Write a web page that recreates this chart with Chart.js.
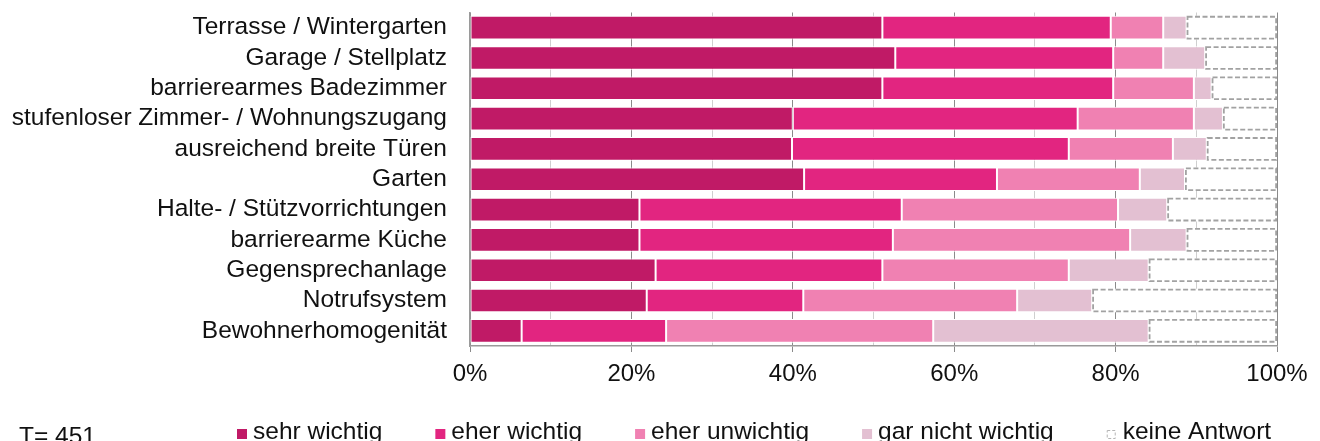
<!DOCTYPE html>
<html lang="de">
<head>
<meta charset="utf-8">
<title>Wichtigkeit von Ausstattungsmerkmalen</title>
<script src="https://cdn.jsdelivr.net/npm/chart.js@4"></script>
<style>
  html, body { margin: 0; padding: 0; background: #fff; }
  #wrap { width: 1320px; height: 441px; position: relative; }
</style>
</head>
<body>
<div id="wrap"><canvas id="chart" width="1320" height="441"></canvas></div>
<script>
// Merkmale (von oben nach unten)
const merkmale = [
  'Terrasse / Wintergarten',
  'Garage / Stellplatz',
  'barrierearmes Badezimmer',
  'stufenloser Zimmer- / Wohnungszugang',
  'ausreichend breite Türen',
  'Garten',
  'Halte- / Stützvorrichtungen',
  'barrierearme Küche',
  'Gegensprechanlage',
  'Notrufsystem',
  'Bewohnerhomogenität'
];

// Anteile in Prozent
const sehrWichtig     = [51.1, 52.7, 51.1, 40.0, 39.9, 41.4, 21.0, 21.0, 23.0, 21.9, 6.4];
const eherWichtig     = [28.3, 27.0, 28.6, 35.3, 34.3, 23.9, 32.5, 31.4, 28.1, 19.4, 17.9];
const eherUnwichtig   = [6.5, 6.2, 10.0, 14.4, 12.9, 17.7, 26.8, 29.4, 23.1, 26.5, 33.1];
const garNichtWichtig = [2.9, 5.2, 2.2, 3.6, 4.2, 5.6, 6.1, 7.0, 9.9, 9.3, 26.7];
const keineAntwort    = [11.2, 8.9, 8.1, 6.7, 8.7, 11.4, 13.6, 11.2, 15.9, 22.9, 15.9];

const xTicks = [0, 20, 40, 60, 80, 100];
const fallzahl = 'T= 451';

const FONT = '"Liberation Sans", Arial, sans-serif';
const LABEL_SIZE = 24.5;
const TICK_SIZE = 24;
const DASH_GREY = '#a2a2a2';

function serie(label, data, color) {
  return {
    label,
    data,
    backgroundColor: color,
    borderColor: '#ffffff',
    borderWidth: 1,
    borderSkipped: false,
    barPercentage: 0.78,
    categoryPercentage: 1
  };
}

const datasets = [
  serie('sehr wichtig', sehrWichtig, '#c01a66'),
  serie('eher wichtig', eherWichtig, '#e22580'),
  serie('eher unwichtig', eherUnwichtig, '#f081b2'),
  serie('gar nicht wichtig', garNichtWichtig, '#e3c0d2'),
  Object.assign(serie('keine Antwort', keineAntwort, '#ffffff'), { borderWidth: 0, dashed: true })
];

// gestrichelter Rahmen für "keine Antwort"
const dashedBars = {
  id: 'dashedBars',
  afterDatasetsDraw(chart) {
    const ctx = chart.ctx;
    chart.data.datasets.forEach((ds, i) => {
      if (!ds.dashed) return;
      chart.getDatasetMeta(i).data.forEach(bar => {
        const { x, y, base, height } = bar.getProps(['x', 'y', 'base', 'height'], true);
        ctx.save();
        ctx.strokeStyle = DASH_GREY;
        ctx.lineWidth = 1.8;
        ctx.setLineDash([5, 2.5]);
        ctx.strokeRect(Math.min(x, base) + 0.9, y - height / 2 + 0.9, Math.abs(x - base) - 1.8, height - 1.8);
        ctx.restore();
      });
    });
  }
};

// Legende und Fallzahl unten
const bottomLegend = {
  id: 'bottomLegend',
  afterDraw(chart) {
    const ctx = chart.ctx;
    ctx.save();
    ctx.font = `${LABEL_SIZE}px ${FONT}`;
    ctx.textBaseline = 'alphabetic';
    ctx.fillStyle = '#111';
    ctx.fillText(fallzahl, 19, 444);

    let x = 237;
    const boxTop = 429, box = 10;
    chart.data.datasets.forEach(ds => {
      if (ds.dashed) {
        ctx.strokeStyle = '#b5b5b5';
        ctx.lineWidth = 1;
        ctx.setLineDash([3, 2]);
        ctx.strokeRect(x + 0.5, boxTop + 1.5, box - 2, box - 2);
        ctx.setLineDash([]);
      } else {
        ctx.fillStyle = ds.backgroundColor;
        ctx.fillRect(x, boxTop, box, box);
      }
      ctx.fillStyle = '#111';
      ctx.fillText(ds.label, x + 16, 439);
      x += 16 + ctx.measureText(ds.label).width + 53;
    });
    ctx.restore();
  }
};

new Chart(document.getElementById('chart'), {
  type: 'bar',
  data: { labels: merkmale, datasets },
  options: {
    indexAxis: 'y',
    responsive: false,
    animation: false,
    layout: { padding: { top: 12.5, right: 43, bottom: 0, left: 0 } },
    plugins: {
      legend: { display: false },
      tooltip: { enabled: false }
    },
    scales: {
      x: {
        stacked: true,
        min: 0,
        max: 100,
        afterFit: scale => { scale.height = 95; },
        afterBuildTicks: scale => {
          // Gitter alle 10 %, beschriftet nur alle 20 %
          scale.ticks = Array.from({ length: 11 }, (_, i) => ({ value: i * 10 }));
        },
        ticks: {
          autoSkip: false,
          maxRotation: 0,
          padding: 8,
          color: '#111',
          font: { family: FONT, size: TICK_SIZE },
          callback: v => (xTicks.includes(v) ? v + '%' : '')
        },
        grid: {
          color: c => (c.tick && c.tick.value % 20 === 0 ? '#8a8a8a' : '#cfcfcf'),
          tickColor: c => (c.tick && c.tick.value % 20 === 0 ? '#8a8a8a' : 'rgba(0,0,0,0)'),
          tickLength: 6,
          lineWidth: 1
        },
        border: { display: true, color: '#9a9a9a', width: 1.5 }
      },
      y: {
        stacked: true,
        afterFit: scale => {
          scale.width = 470;
          scale.paddingTop = 0;
          scale.paddingBottom = 0;
        },
        ticks: {
          autoSkip: false,
          padding: 15,
          color: '#111',
          font: { family: FONT, size: LABEL_SIZE }
        },
        grid: { display: false },
        border: { display: true, color: '#9a9a9a', width: 1.5 }
      }
    }
  },
  plugins: [dashedBars, bottomLegend]
});
</script>
</body>
</html>
